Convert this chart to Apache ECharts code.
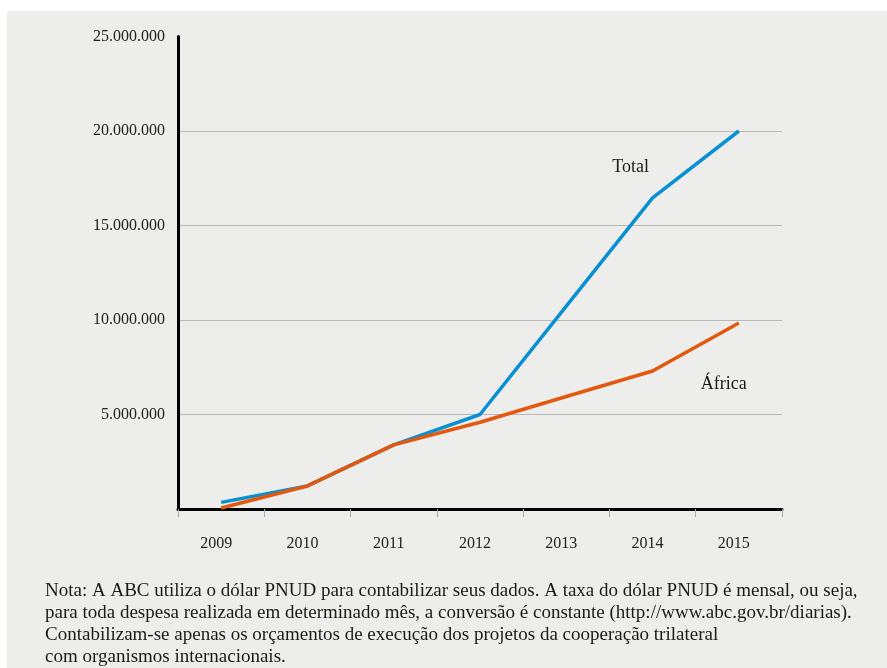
<!DOCTYPE html>
<html>
<head>
<meta charset="utf-8">
<script src="https://cdn.jsdelivr.net/npm/echarts@6/dist/echarts.min.js"></script>
<style>
  html, body { margin: 0; padding: 0; background: #ffffff; }
  #chart { width: 887px; height: 668px; }
</style>
</head>
<body>
<div id="chart"></div>
<script>
// Anos do período analisado
const years = ['2009', '2010', '2011', '2012', '2013', '2014', '2015'];
// Orçamento total da cooperação trilateral (US$)
const totalValues = [350000, 1220000, 3390000, 5000000, 10730000, 16460000, 20000000];
// Orçamento destinado à África (US$)
const africaValues = [50000, 1220000, 3390000, 4590000, 5950000, 7300000, 9840000];
// Rótulos do eixo vertical
const yTicks = [5000000, 10000000, 15000000, 20000000, 25000000];
const noteLines = [
  'Nota: A ABC utiliza o dólar PNUD para contabilizar seus dados. A taxa do dólar PNUD é mensal, ou seja,',
  'para toda despesa realizada em determinado mês, a conversão é constante (http://www.abc.gov.br/diarias).',
  'Contabilizam-se apenas os orçamentos de execução dos projetos da cooperação trilateral',
  'com organismos internacionais.'
];

const serif = '"Liberation Serif", "DejaVu Serif", serif';
const fmt = v => String(v).replace(/\B(?=(\d{3})+(?!\d))/g, '.');

const chart = echarts.init(document.getElementById('chart'));

const graphics = [
  {
    type: 'rect', z: -10, silent: true,
    shape: { x: 7, y: 11, width: 880, height: 657 },
    style: { fill: '#ededeb' }
  }
];
noteLines.forEach((t, i) => {
  graphics.push({
    type: 'text', x: 45, y: 591 + i * 22,
    style: { text: t, font: '19px ' + serif, fill: '#1a1a1a', verticalAlign: 'middle' }
  });
});

chart.setOption({
  animation: false,
  backgroundColor: '#ffffff',
  graphic: graphics,
  grid: { left: 178, right: 105, top: 36.5, bottom: 159, containLabel: false },
  xAxis: {
    type: 'category',
    data: years,
    boundaryGap: true,
    axisLine: { show: true, lineStyle: { color: '#000000', width: 3 } },
    axisTick: { show: true, alignWithLabel: false, length: 8, inside: false, lineStyle: { color: '#aaaaaa', width: 1 } },
    axisLabel: { margin: 27, color: '#222222', fontFamily: serif, fontSize: 16, padding: [0, 10, 0, 0] },
    splitLine: { show: false }
  },
  yAxis: {
    type: 'value',
    min: 0, max: 25000000, interval: 5000000,
    axisLine: { show: true, lineStyle: { color: '#000000', width: 3 } },
    axisTick: { show: false },
    axisLabel: {
      margin: 13, color: '#222222', fontFamily: serif, fontSize: 16,
      formatter: v => (yTicks.indexOf(v) >= 0 ? fmt(v) : '')
    },
    splitLine: {
      show: true,
      lineStyle: { color: '#b8b8b6', width: 1 },
      showMaxLine: false
    }
  },
  series: [
    {
      name: 'Total', type: 'line', data: totalValues,
      symbol: 'none', z: 3,
      lineStyle: { color: '#0a90d2', width: 3.5 }
    },
    {
      name: 'África', type: 'line', data: africaValues,
      symbol: 'none', z: 4,
      lineStyle: { color: '#e2580e', width: 3.5 }
    }
  ]
});

// Rótulos das séries posicionados sobre as coordenadas dos dados
function placeLabels() {
  const pTotal = chart.convertToPixel({ gridIndex: 0 }, ['2014', 18000000]);
  const pAfrica = chart.convertToPixel({ gridIndex: 0 }, ['2015', 6500000]);
  chart.setOption({
    graphic: graphics.concat([
      { type: 'text', x: pTotal[0] - 22, y: pTotal[1] - 2, style: { text: 'Total', font: '18px ' + serif, fill: '#1a1a1a', align: 'center', verticalAlign: 'middle' } },
      { type: 'text', x: pAfrica[0] - 15, y: pAfrica[1] - 2, style: { text: 'África', font: '18px ' + serif, fill: '#1a1a1a', align: 'center', verticalAlign: 'middle' } }
    ])
  });
}
placeLabels();
</script>
</body>
</html>
